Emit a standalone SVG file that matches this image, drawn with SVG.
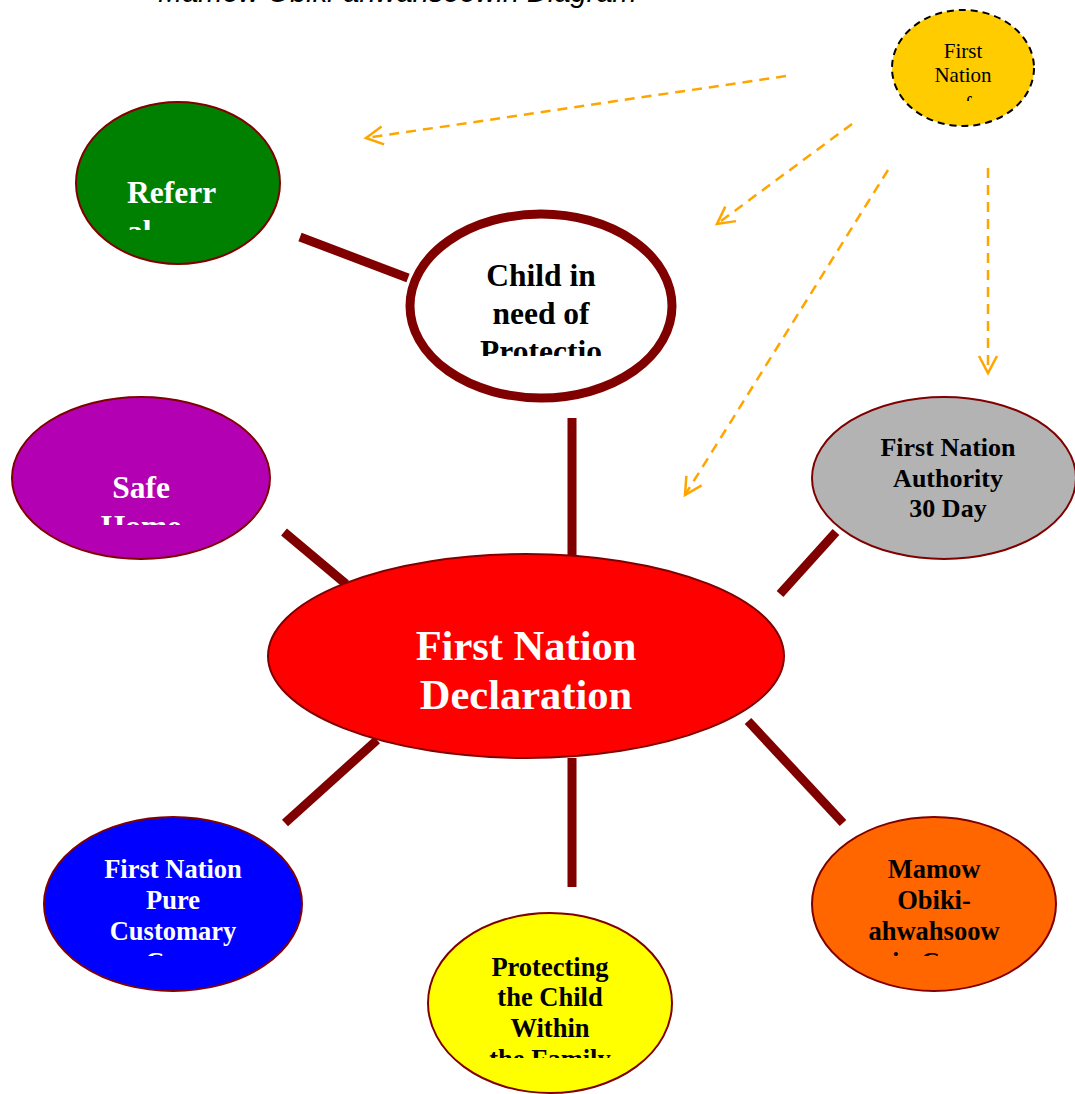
<svg xmlns="http://www.w3.org/2000/svg" width="1075" height="1094" viewBox="0 0 1075 1094">
<style>
.node{stroke:#800000;stroke-width:2}
.lbl{font-family:"Liberation Serif","Times New Roman",serif;font-weight:bold;text-anchor:middle}
.conn line{stroke:#800000;stroke-width:9}
.dash line{stroke:#FFA500;stroke-width:2.5;stroke-dasharray:10,7;fill:none}
</style>
<defs>
<marker id="ah" viewBox="0 0 20 20" refX="19" refY="10" markerWidth="20" markerHeight="20" markerUnits="userSpaceOnUse" orient="auto" overflow="visible">
<path d="M2,1 L19,10 L2,19" fill="none" stroke="#FFA500" stroke-width="2.5"/>
</marker>
<clipPath id="cRef"><rect x="60" y="150" width="240" height="80"/></clipPath>
<clipPath id="cChild"><rect x="400" y="250" width="280" height="106"/></clipPath>
<clipPath id="cSafe"><rect x="0" y="460" width="280" height="65"/></clipPath>
<clipPath id="cBlue"><rect x="40" y="850" width="270" height="106"/></clipPath>
<clipPath id="cYel"><rect x="420" y="945" width="270" height="113"/></clipPath>
<clipPath id="cOr"><rect x="800" y="850" width="270" height="106"/></clipPath>
<clipPath id="cTop"><rect x="890" y="30" width="150" height="71"/></clipPath>
</defs>
<rect width="1075" height="1094" fill="#fff"/>
<text x="158" y="2" font-family="Liberation Sans, Arial, sans-serif" font-style="italic" font-size="29" fill="#000">Mamow Obiki-ahwahsoowin Diagram</text>

<g id="connectors">
<g class="conn">
<line x1="300" y1="237" x2="408" y2="278"/>
<line x1="572" y1="418" x2="572" y2="556"/>
<line x1="284" y1="532" x2="346" y2="584"/>
<line x1="780" y1="594" x2="836" y2="532"/>
<line x1="377" y1="740" x2="285" y2="823"/>
<line x1="572" y1="758" x2="572" y2="887"/>
<line x1="748" y1="721" x2="843" y2="823"/>
</g>
<g class="dash">
<line x1="786" y1="76" x2="366" y2="138" marker-end="url(#ah)"/>
<line x1="852" y1="124" x2="717" y2="224" marker-end="url(#ah)"/>
<line x1="888" y1="170" x2="685" y2="495" marker-end="url(#ah)"/>
<line x1="988" y1="168" x2="988" y2="373" marker-end="url(#ah)"/>
</g>
</g>

<g id="n-firstnations">
<ellipse cx="963" cy="68" rx="71" ry="58" fill="#FFCC00" stroke="#000" stroke-width="2" stroke-dasharray="7,5"/>
<g clip-path="url(#cTop)" font-family="Liberation Serif, serif" font-size="21" text-anchor="middle" fill="#000">
<text x="963" y="58">First</text><text x="963" y="82">Nation</text><text x="963" y="111">of</text>
</g>
</g>

<g id="n-referral">
<ellipse class="node" cx="178" cy="183" rx="102" ry="81" fill="#008000"/>
<g clip-path="url(#cRef)" class="lbl" font-size="31.5" fill="#fff" text-anchor="start">
<text x="127" y="203" text-anchor="start">Referr</text><text x="127" y="242" text-anchor="start">al</text>
</g>
</g>

<g id="n-child">
<ellipse cx="541" cy="306" rx="131" ry="92" fill="#fff" stroke="#800000" stroke-width="9"/>
<g clip-path="url(#cChild)" class="lbl" font-size="31.5" fill="#000">
<text x="541" y="286">Child in</text><text x="541" y="324">need of</text><text x="541" y="362">Protectio</text>
</g>
</g>

<g id="n-safehome">
<ellipse class="node" cx="141" cy="478" rx="129" ry="81" fill="#B300B3"/>
<g clip-path="url(#cSafe)" class="lbl" font-size="31.5" fill="#fff">
<text x="141" y="498">Safe</text><text x="141" y="537">Home</text>
</g>
</g>

<g id="n-authority">
<ellipse class="node" cx="944" cy="478" rx="132" ry="81" fill="#B3B3B3"/>
<g class="lbl" font-size="26" fill="#000">
<text x="948" y="456">First Nation</text><text x="948" y="487">Authority</text><text x="948" y="517">30 Day</text>
</g>
</g>

<g id="n-declaration">
<ellipse class="node" cx="526" cy="656" rx="258" ry="102" fill="#FF0000"/>
<g class="lbl" font-size="42.5" fill="#fff">
<text x="526" y="660">First Nation</text><text x="526" y="709">Declaration</text>
</g>
</g>

<g id="n-customary">
<ellipse class="node" cx="173" cy="904" rx="129" ry="87" fill="#0000FF"/>
<g clip-path="url(#cBlue)" class="lbl" font-size="26.5" fill="#fff">
<text x="173" y="878">First Nation</text><text x="173" y="909">Pure</text><text x="173" y="940">Customary</text><text x="173" y="971">Care</text>
</g>
</g>

<g id="n-family">
<ellipse class="node" cx="550" cy="1003" rx="122" ry="90" fill="#FFFF00"/>
<g clip-path="url(#cYel)" class="lbl" font-size="26.5" fill="#000">
<text x="550" y="976">Protecting</text><text x="550" y="1006">the Child</text><text x="550" y="1037">Within</text><text x="550" y="1068">the Family</text>
</g>
</g>

<g id="n-mamow">
<ellipse class="node" cx="934" cy="904" rx="122" ry="87" fill="#FF6600"/>
<g clip-path="url(#cOr)" class="lbl" font-size="26.5" fill="#000">
<text x="934" y="878">Mamow</text><text x="934" y="909">Obiki-</text><text x="934" y="940">ahwahsoow</text><text x="934" y="971">in Care</text>
</g>
</g>
</svg>
